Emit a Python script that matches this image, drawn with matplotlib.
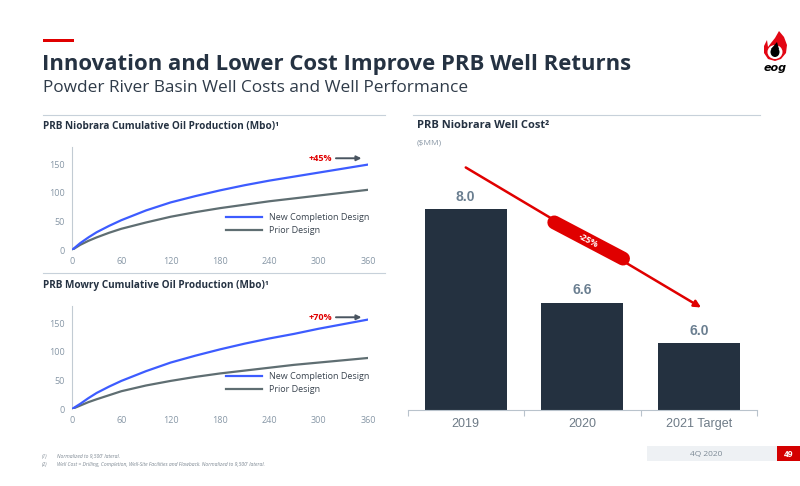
import matplotlib
matplotlib.use("Agg")
import matplotlib.pyplot as plt
from matplotlib.patches import Rectangle, Polygon, Ellipse
import numpy as np

# ---- data ----
months = [0, 10, 20, 30, 45, 60, 90, 120, 150, 180, 210, 240, 270, 300, 330, 360]
niob_new = [0, 12, 22, 31, 42, 52, 69, 83, 94, 104, 113, 121, 128, 135, 142, 149]
niob_prior = [0, 9, 16, 22, 30, 37, 48, 58, 66, 73, 79, 85, 90, 95, 100, 105]
mowry_new = [0, 9, 19, 28, 39, 49, 66, 81, 93, 104, 114, 123, 131, 140, 148, 156]
mowry_prior = [0, 6, 12, 17, 24, 31, 41, 49, 56, 62, 67, 72, 77, 81, 85, 89]

cost_years = ["2019", "2020", "2021 Target"]
cost_values = [8.0, 6.6, 6.0]

W, H = 800, 486
NAVY = "#253242"
BLUE = "#3d5cff"
GREY_LINE = "#5f6e72"
RED = "#e00000"
TICK = "#8797a6"
RULE = "#c7d1da"
FONT = "Open Sans"

plt.rcParams["font.family"] = [FONT, "DejaVu Sans"]


def px(l, t, r, b):
    return [l / W, 1 - b / H, (r - l) / W, (b - t) / H]


fig = plt.figure(figsize=(8, 4.86), dpi=100)
fig.patch.set_facecolor("white")

# overlay for header / footer / rules
ov = fig.add_axes([0, 0, 1, 1])
ov.set_xlim(0, W)
ov.set_ylim(H, 0)
ov.axis("off")

ov.add_patch(Rectangle((43, 39.5), 31, 3, color=RED, lw=0))
ov.text(42, 70, "Innovation and Lower Cost Improve PRB Well Returns", fontsize=15.9,
        fontweight="bold", color=NAVY, va="baseline", ha="left")
ov.text(43, 92, "Powder River Basin Well Costs and Well Performance", fontsize=12.4,
        color="#2f3b49", va="baseline", ha="left")

# logo
flame = Polygon([(779, 31), (784, 37), (787, 45), (786, 53), (781, 59), (775, 61),
                 (768, 59), (764, 53), (764, 46), (767, 40), (768, 47), (771, 43),
                 (775, 38)], closed=True, color="#e30613", lw=0)
ov.add_patch(flame)
ov.add_patch(Ellipse((775, 52), 15, 14, color="white", lw=0))
ov.add_patch(Polygon([(777, 42), (779, 49), (771, 49)], closed=True, color="black", lw=0))
ov.add_patch(Ellipse((775, 52), 9, 10, color="black", lw=0))
ov.text(775, 71, "eog", fontsize=8, fontweight="bold", style="italic", color="black",
        ha="center", va="baseline", family="DejaVu Sans")

# rules
ov.plot([43, 385], [115, 115], color=RULE, lw=0.8)
ov.plot([43, 385], [273, 273], color=RULE, lw=0.8)
ov.plot([413, 760], [115, 115], color=RULE, lw=0.8)

# footnotes
ov.text(42, 458, "(1)", fontsize=3.6, style="italic", color="#7a8590", va="baseline")
ov.text(57, 458, "Normalized to 9,500' lateral.", fontsize=3.6, style="italic",
        color="#7a8590", va="baseline")
ov.text(42, 466, "(2)", fontsize=3.6, style="italic", color="#7a8590", va="baseline")
ov.text(57, 466, "Well Cost = Drilling, Completion, Well-Site Facilities and Flowback. "
        "Normalized to 9,500' lateral.", fontsize=3.6, style="italic", color="#7a8590",
        va="baseline")

# footer
ov.add_patch(Rectangle((647, 446), 130, 15, color="#eef1f4", lw=0))
ov.text(706, 454, "4Q 2020", fontsize=6, color="#7d8a96", ha="center", va="center")
ov.add_patch(Rectangle((777, 446), 23, 15, color="#d40000", lw=0))
ov.text(788.5, 454, "49", fontsize=6, color="white", fontweight="bold",
        ha="center", va="center")

# ---- production charts ----
def prod_chart(rect, title, title_y, new, prior, pct):
    ax = fig.add_axes(rect)
    ax.plot(months, prior, color=GREY_LINE, lw=1.6, label="Prior Design", zorder=2)
    ax.plot(months, new, color=BLUE, lw=1.6, label="New Completion Design", zorder=3)
    ax.set_xlim(0, 360)
    ax.set_ylim(0, 180)
    ax.set_xticks(range(0, 361, 60))
    ax.set_yticks([0, 50, 100, 150])
    for s in ["top", "right", "bottom"]:
        ax.spines[s].set_visible(False)
    ax.spines["left"].set_color("#c2cbd3")
    ax.spines["left"].set_linewidth(0.8)
    ax.tick_params(length=0, labelsize=6.5, labelcolor=TICK, pad=5)
    handles, labels = ax.get_legend_handles_labels()
    leg = ax.legend(handles[::-1], labels[::-1], loc="upper left",
                    bbox_to_anchor=(0.52, 0.36), frameon=False, fontsize=6.5,
                    handlelength=4.0, handletextpad=0.8, labelspacing=0.45,
                    borderpad=0, borderaxespad=0)
    for t in leg.get_texts():
        t.set_color("#3b4550")
    ax.text(316, 160, pct, color=RED, fontsize=6.5, fontweight="bold",
            ha="right", va="center")
    ax.annotate("", xy=(352, 160), xytext=(321, 160),
                arrowprops=dict(arrowstyle="-|>", color="#4a5560", lw=1.4,
                                mutation_scale=7, shrinkA=0, shrinkB=0))
    fig.text(43 / W, 1 - title_y / H, title, fontsize=7.2, fontweight="bold",
             color=NAVY, va="center", ha="left")
    return ax


prod_chart(px(72, 146.8, 368, 250), "PRB Niobrara Cumulative Oil Production (Mbo)\u00b9",
           127, niob_new, niob_prior, "+45%")
prod_chart(px(72, 305.8, 368, 409), "PRB Mowry Cumulative Oil Production (Mbo)\u00b9",
           285, mowry_new, mowry_prior, "+70%")

# ---- well cost bar chart ----
bx = fig.add_axes(px(407.5, 150, 757, 410))
xpos = np.arange(len(cost_values))
bars = bx.bar(xpos, cost_values, width=0.7, color="#243140", zorder=2)
bx.set_xlim(-0.5, 2.5)
bx.set_ylim(5.0, 5.0 + 260 / 67)
for s in ["top", "right", "left"]:
    bx.spines[s].set_visible(False)
bx.spines["bottom"].set_color("#b9c3cc")
bx.spines["bottom"].set_linewidth(0.8)
bx.set_yticks([])
bx.set_xticks(xpos)
bx.set_xticklabels(cost_years, family=["Liberation Sans", "DejaVu Sans"])
bx.set_xticks([-0.5, 0.5, 1.5, 2.5], minor=True)
bx.tick_params(axis="x", which="major", length=0, labelsize=9, labelcolor="#6e7b87", pad=6)
bx.tick_params(axis="x", which="minor", length=4, color="#b9c3cc", width=0.8)
for xi, v in zip(xpos, cost_values):
    bx.text(xi, v + 0.08, f"{v:.1f}", ha="center", va="bottom", fontsize=10,
            fontweight="bold", color="#6a7e90", family=["Liberation Sans", "DejaVu Sans"])

# trend arrow with -25% badge
bx.annotate("", xy=(2.02, 6.53), xytext=(0.0, 8.62),
            arrowprops=dict(arrowstyle="-|>", color=RED, lw=1.8, mutation_scale=10,
                            shrinkA=0, shrinkB=0), annotation_clip=False)
p0, p1 = (0.76, 7.80), (1.35, 7.26)
bx.plot([p0[0], p1[0]], [p0[1], p1[1]], color=RED, lw=10, solid_capstyle="round",
        zorder=4, clip_on=False)
d0 = bx.transData.transform(p0)
d1 = bx.transData.transform(p1)
ang = np.degrees(np.arctan2(d1[1] - d0[1], d1[0] - d0[0]))
bx.text((p0[0] + p1[0]) / 2, (p0[1] + p1[1]) / 2, "-25%", color="white", fontsize=6.5,
        fontweight="bold", rotation=ang, rotation_mode="anchor", ha="center",
        va="center", zorder=5)

fig.text(417 / W, 1 - 125 / H, "PRB Niobrara Well Cost\u00b2", fontsize=8, fontweight="bold",
         color=NAVY, va="center", ha="left")
fig.text(417 / W, 1 - 143 / H, "($MM)", fontsize=6, color="#8a98a6", va="center", ha="left")

fig.savefig("out.png", dpi=100)
